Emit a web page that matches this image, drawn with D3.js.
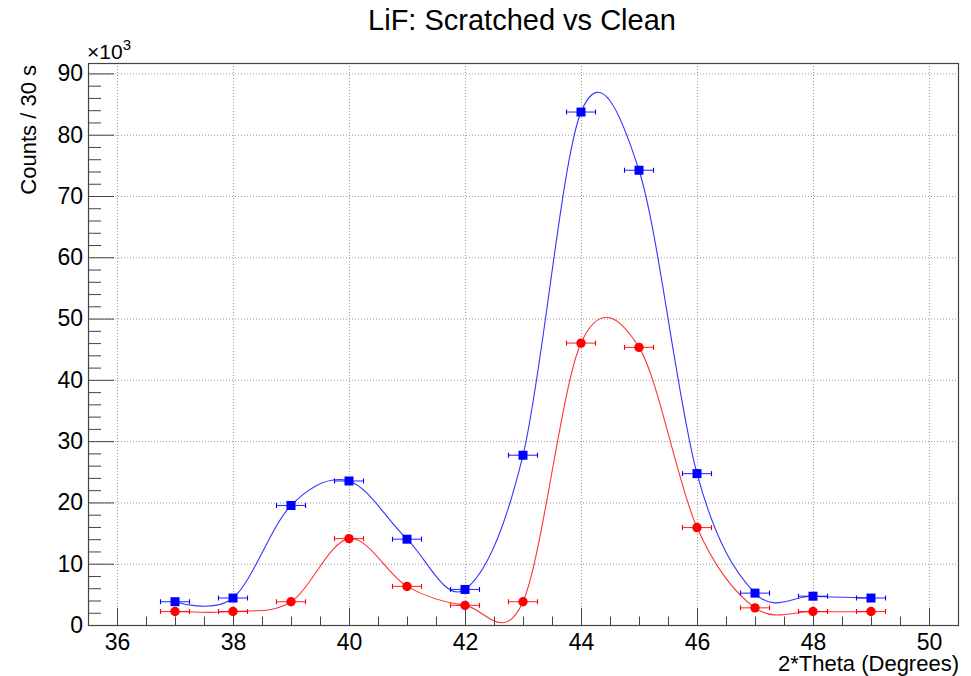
<!DOCTYPE html>
<html>
<head>
<meta charset="utf-8">
<script src="https://cdn.jsdelivr.net/npm/d3@7"></script>
<style>
  body { margin: 0; background: #fff; }
  svg { display: block; font-family: "Liberation Sans", Arial, sans-serif; }
</style>
</head>
<body>
<script>
// angles (2*theta, degrees) and counts in thousands
var theta = [37, 38, 39, 40, 41, 42, 43, 44, 45, 46, 47, 48, 49];
var scratched = [3.8, 4.4, 19.5, 23.5, 14.0, 5.8, 27.7, 83.7, 74.2, 24.7, 5.2, 4.7, 4.4];
var clean = [2.2, 2.2, 3.8, 14.1, 6.3, 3.2, 3.8, 46.0, 45.3, 15.9, 2.8, 2.2, 2.2];
var thetaErr = 0.25;
var xTicks = [36, 38, 40, 42, 44, 46, 48, 50];
var yTicks = [0, 10, 20, 30, 40, 50, 60, 70, 80, 90];

var W = 971, H = 676;
var margin = {top: 63, right: 13, bottom: 51, left: 88};
var fw = W - margin.left - margin.right;
var fh = H - margin.top - margin.bottom;

var svg = d3.select("body").append("svg")
    .attr("width", W)
    .attr("height", H);

var x = d3.scaleLinear().domain([35.5, 50.5]).range([margin.left, margin.left + fw]);
var y = d3.scaleLinear().domain([0, 91.7]).range([margin.top + fh, margin.top]);

// grid
var grid = svg.append("g")
    .attr("stroke", "#999")
    .attr("stroke-width", 1)
    .attr("stroke-dasharray", "1,2");
grid.selectAll("line.gx")
    .data(xTicks)
    .enter().append("line")
    .attr("x1", d => x(d) + 0.5).attr("x2", d => x(d) + 0.5)
    .attr("y1", margin.top).attr("y2", margin.top + fh);
grid.selectAll("line.gy")
    .data(yTicks.filter(d => d > 0))
    .enter().append("line")
    .attr("y1", d => y(d) + 0.5).attr("y2", d => y(d) + 0.5)
    .attr("x1", margin.left).attr("x2", margin.left + fw);

// axes, ticks point into the frame like ROOT does
var xAxis = svg.append("g")
    .attr("transform", "translate(0," + (margin.top + fh) + ")")
    .call(d3.axisBottom(x).tickValues(xTicks).tickSize(-17).tickPadding(9));
xAxis.selectAll(".tick line").attr("stroke", "#444");
var xMinor = d3.range(36, 50.01, 0.5).filter(d => d % 2 != 0);
xAxis.selectAll("line.minor")
    .data(xMinor)
    .enter().append("line")
    .attr("class", "minor")
    .attr("x1", d => x(d) + 0.5).attr("x2", d => x(d) + 0.5)
    .attr("y1", 0).attr("y2", -8.5)
    .attr("stroke", "#444");

var yAxis = svg.append("g")
    .attr("transform", "translate(" + margin.left + ",0)")
    .call(d3.axisLeft(y).tickValues(yTicks).tickSize(-26).tickPadding(5));
yAxis.selectAll(".tick line").attr("stroke", "#444");
var yMinor = d3.range(2, 91, 2).filter(d => d % 10 != 0);
yAxis.selectAll("line.minor")
    .data(yMinor)
    .enter().append("line")
    .attr("class", "minor")
    .attr("y1", d => y(d) + 0.5).attr("y2", d => y(d) + 0.5)
    .attr("x1", 0).attr("x2", 13)
    .attr("stroke", "#444");

svg.selectAll(".domain").remove();
svg.selectAll(".tick text")
    .attr("font-family", "Liberation Sans, Arial, sans-serif")
    .attr("font-size", 23)
    .attr("fill", "#000");

// frame
svg.append("rect")
    .attr("x", margin.left + 0.5).attr("y", margin.top + 0.5)
    .attr("width", fw).attr("height", fh)
    .attr("fill", "none")
    .attr("stroke", "#444")
    .attr("stroke-width", 1.2);

// curves (ROOT "C" smoothing is close to a uniform Catmull-Rom spline)
var series = [
    {vals: scratched, color: "#0000ff", marker: "square"},
    {vals: clean, color: "#ff0000", marker: "circle"}
];

var line = d3.line()
    .x(d => x(d[0]))
    .y(d => y(d[1]))
    .curve(d3.curveCatmullRom.alpha(0));

series.forEach(function(s) {
    var pts = theta.map((t, i) => [t, s.vals[i]]);
    var g = svg.append("g");
    g.append("path")
        .datum(pts)
        .attr("d", line)
        .attr("fill", "none")
        .attr("stroke", s.color)
        .attr("stroke-opacity", 0.8)
        .attr("stroke-width", 1.1);

    // horizontal error bars with end caps
    g.selectAll("line.err")
        .data(pts)
        .enter().append("line")
        .attr("x1", d => x(d[0] - thetaErr)).attr("x2", d => x(d[0] + thetaErr))
        .attr("y1", d => y(d[1])).attr("y2", d => y(d[1]))
        .attr("stroke", s.color)
        .attr("stroke-opacity", 0.8)
        .attr("stroke-width", 1.1);
    [-thetaErr, thetaErr].forEach(function(e) {
        g.selectAll(null)
            .data(pts)
            .enter().append("line")
            .attr("x1", d => x(d[0] + e)).attr("x2", d => x(d[0] + e))
            .attr("y1", d => y(d[1]) - 2.5).attr("y2", d => y(d[1]) + 2.5)
            .attr("stroke", s.color)
            .attr("stroke-width", 1.1);
    });

    if (s.marker == "square") {
        g.selectAll("rect.mk")
            .data(pts)
            .enter().append("rect")
            .attr("x", d => x(d[0]) - 4.5).attr("y", d => y(d[1]) - 4.5)
            .attr("width", 9).attr("height", 9)
            .attr("fill", s.color);
    } else {
        g.selectAll("circle.mk")
            .data(pts)
            .enter().append("circle")
            .attr("cx", d => x(d[0])).attr("cy", d => y(d[1]))
            .attr("r", 4.7)
            .attr("fill", s.color);
    }
});

// titles
svg.append("text")
    .attr("x", 522).attr("y", 30)
    .attr("text-anchor", "middle")
    .attr("font-size", 29)
    .text("LiF: Scratched vs Clean");

svg.append("text")
    .attr("x", margin.left + fw + 1).attr("y", 671)
    .attr("text-anchor", "end")
    .attr("font-size", 22)
    .text("2*Theta (Degrees)");

svg.append("text")
    .attr("transform", "translate(36," + (margin.top + 2) + ") rotate(-90)")
    .attr("text-anchor", "end")
    .attr("font-size", 22)
    .text("Counts / 30 s");

var mult = svg.append("text")
    .attr("x", 87).attr("y", 59)
    .attr("font-size", 21);
mult.append("tspan").text("\u00d710");
mult.append("tspan").attr("dy", -9).attr("font-size", 15).text("3");
</script>
</body>
</html>
